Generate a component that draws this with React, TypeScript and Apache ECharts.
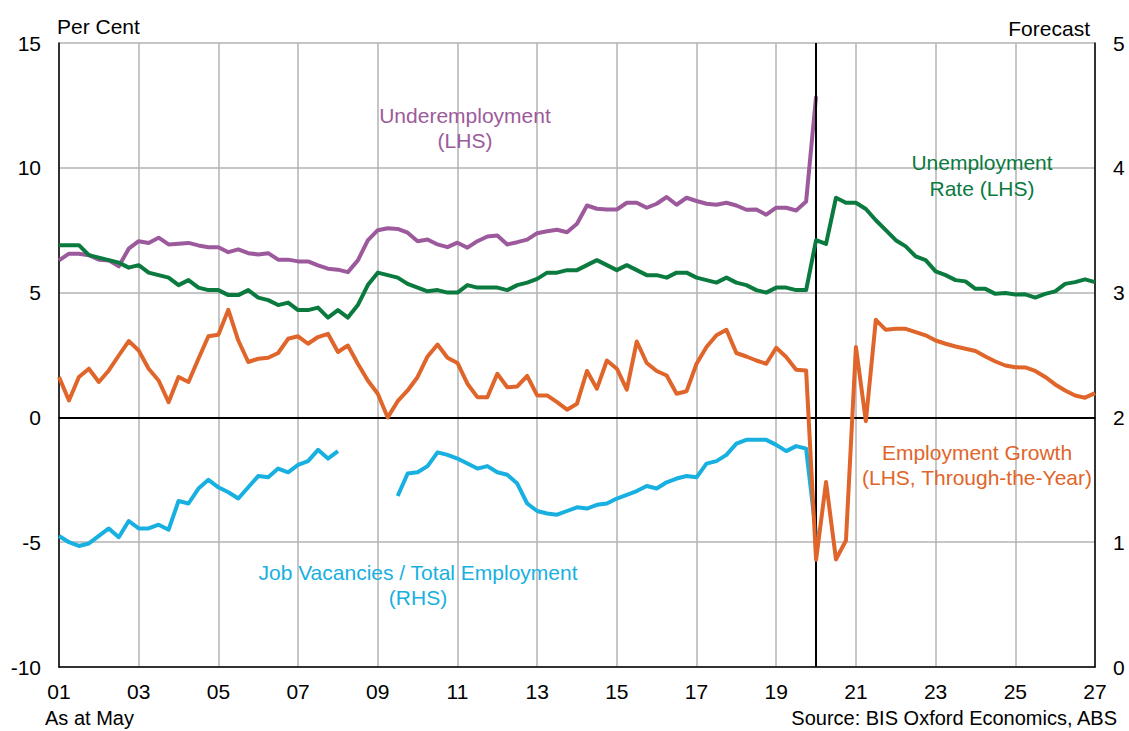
import React, { useEffect, useRef } from "react";
import * as echarts from "echarts";

const START_YEAR = 2001;
const STEP = 0.25;

const xTickYears = [2001, 2003, 2005, 2007, 2009, 2011, 2013, 2015, 2017, 2019, 2021, 2023, 2025, 2027];
const leftTicks = [-10, -5, 0, 5, 10, 15];
const rightTicks = [0, 1, 2, 3, 4, 5];
const forecastStart = 2020;

// Quarterly, starting 2001 Q1
const unemploymentRate = [
  6.9, 6.9, 6.9, 6.5, 6.4, 6.3, 6.2, 6.0, 6.1, 5.8,
  5.7, 5.6, 5.3, 5.5, 5.2, 5.1, 5.1, 4.9, 4.9, 5.1,
  4.8, 4.7, 4.5, 4.6, 4.3, 4.3, 4.4, 4.0, 4.3, 4.0,
  4.5, 5.3, 5.8, 5.7, 5.6,
  5.35, 5.2, 5.05, 5.1, 5.0, 5.0, 5.3, 5.2, 5.2, 5.2,
  5.1, 5.3, 5.4, 5.55, 5.8, 5.8, 5.9, 5.9, 6.1, 6.3,
  6.1, 5.9, 6.1, 5.9, 5.7, 5.7, 5.6, 5.8, 5.8, 5.6,
  5.5, 5.4, 5.6, 5.4, 5.3, 5.1, 5.0, 5.2,
  5.2, 5.1, 5.1, 7.1, 6.95, 8.8, 8.6, 8.6, 8.35, 7.9,
  7.5, 7.1, 6.85, 6.45, 6.3, 5.85, 5.7, 5.5, 5.45, 5.15,
  5.15, 4.95, 4.98, 4.92, 4.93, 4.8, 4.95, 5.05, 5.35, 5.42,
  5.53, 5.42,
];

const underemployment = [
  6.29, 6.56, 6.56, 6.5, 6.32, 6.29, 6.05, 6.76, 7.06, 6.99,
  7.2, 6.93, 6.96, 6.99, 6.89, 6.82, 6.82, 6.62, 6.73, 6.58,
  6.53, 6.58, 6.32, 6.32, 6.25, 6.25, 6.09, 5.96, 5.92, 5.82,
  6.29, 7.09, 7.5, 7.58, 7.55, 7.4, 7.06, 7.13, 6.93, 6.82,
  7.0, 6.8, 7.06, 7.25, 7.29, 6.93, 7.02, 7.12, 7.38, 7.46,
  7.52, 7.42, 7.76, 8.49, 8.36, 8.33, 8.33, 8.6, 8.6, 8.4,
  8.56, 8.83, 8.52, 8.8, 8.67, 8.56, 8.52, 8.6, 8.49, 8.32,
  8.33, 8.12, 8.4, 8.4, 8.29, 8.65, 12.86,
];

const employmentGrowth = [
  1.62, 0.68, 1.62, 1.95, 1.42, 1.88, 2.48, 3.06, 2.68, 1.95,
  1.48, 0.61, 1.62, 1.42, 2.35, 3.25, 3.31, 4.31, 3.08, 2.22,
  2.35, 2.39, 2.58, 3.15, 3.25, 2.95, 3.22, 3.35, 2.62, 2.88,
  2.15, 1.48, 0.95, 0.0, 0.65, 1.08, 1.62, 2.44, 2.92, 2.39,
  2.18, 1.35, 0.81, 0.81, 1.75, 1.21, 1.24, 1.66, 0.88, 0.88,
  0.61, 0.31, 0.55, 1.86, 1.15, 2.28, 1.95, 1.11, 3.04, 2.18,
  1.86, 1.68, 0.95, 1.05, 2.15, 2.82, 3.29, 3.51, 2.58, 2.44,
  2.28, 2.15, 2.79, 2.42, 1.91, 1.88, -5.7, -2.59, -5.69, -4.93,
  2.82, -0.15, 3.91, 3.51, 3.55, 3.55, 3.42, 3.29, 3.08, 2.95,
  2.84, 2.75, 2.66, 2.44, 2.24, 2.08, 2.01, 2.0, 1.86, 1.62,
  1.32, 1.08, 0.88, 0.79, 0.97,
];

const jobVacancies: (number | null)[] = [
  1.05, 1.0, 0.97, 0.99, 1.05, 1.11, 1.04, 1.17, 1.11, 1.11,
  1.14, 1.10, 1.33, 1.31, 1.43, 1.50, 1.44, 1.40, 1.35, 1.44,
  1.53, 1.52, 1.59, 1.56, 1.62, 1.65, 1.74, 1.67, 1.73,
  null, null, null, null, null,
  1.37, 1.55, 1.56, 1.61, 1.72, 1.70,
  1.67, 1.63, 1.59, 1.61, 1.56, 1.54, 1.47, 1.31, 1.25, 1.23,
  1.22, 1.25, 1.28, 1.27, 1.30, 1.31, 1.35, 1.38, 1.41, 1.45,
  1.43, 1.48, 1.51, 1.53, 1.52, 1.63, 1.65, 1.70, 1.79, 1.82,
  1.82, 1.82, 1.78, 1.73, 1.77, 1.75, 1.06,
];

const toPairs = (arr: (number | null)[]) =>
  arr.map((v, i) => [START_YEAR + i * STEP, v === null ? "-" : v]);

const FONT = "'Liberation Sans', Arial, sans-serif";
const PURPLE = "#9c5a9c";
const GREEN = "#0a7a3f";
const ORANGE = "#e0652a";
const BLUE = "#17b0e0";
const GRID_GREY = "#b3b3b3";

export default function App() {
  const ref = useRef<HTMLDivElement>(null);

  useEffect(() => {
    if (!ref.current) return;
    const chart = echarts.init(ref.current, undefined, { renderer: "svg" });

    const txt = (
      x: number,
      y: number,
      text: string,
      color: string,
      align: "left" | "center" | "right" = "center",
      size = 21
    ) => ({
      type: "text",
      x,
      y,
      style: {
        text,
        fill: color,
        font: `${size}px ${FONT}`,
        textAlign: align,
        textVerticalAlign: "middle",
      },
      z: 100,
    });

    const lineStyleFor = (color: string) => ({ color, width: 4, join: "round" });

    chart.setOption({
      animation: false,
      backgroundColor: "#fff",
      grid: { left: 59, right: 34, top: 43, bottom: 64, containLabel: false },
      xAxis: [
        {
          type: "value",
          min: xTickYears[0],
          max: xTickYears[xTickYears.length - 1],
          interval: 2,
          axisLine: { show: true, lineStyle: { color: "#000", width: 1.5 } },
          axisTick: { show: false },
          axisLabel: {
            color: "#000",
            fontSize: 21,
            fontFamily: FONT,
            margin: 14,
            formatter: (v: number) => String(v % 100).padStart(2, "0"),
          },
          splitLine: { show: true, lineStyle: { color: GRID_GREY, width: 1.5 } },
        },
        {
          type: "value",
          position: "top",
          min: xTickYears[0],
          max: xTickYears[xTickYears.length - 1],
          axisLine: { show: true, lineStyle: { color: "#000", width: 1.5 } },
          axisTick: { show: false },
          axisLabel: { show: false },
          splitLine: { show: false },
        },
      ],
      yAxis: [
        {
          type: "value",
          min: leftTicks[0],
          max: leftTicks[leftTicks.length - 1],
          interval: 5,
          axisLine: { show: true, lineStyle: { color: "#000", width: 1.5 } },
          axisTick: { show: false },
          axisLabel: { color: "#000", fontSize: 21, fontFamily: FONT, margin: 18 },
          splitLine: { show: true, lineStyle: { color: GRID_GREY, width: 1.5 } },
        },
        {
          type: "value",
          position: "right",
          min: rightTicks[0],
          max: rightTicks[rightTicks.length - 1],
          interval: 1,
          axisLine: { show: true, lineStyle: { color: "#000", width: 1.5 } },
          axisTick: { show: false },
          axisLabel: { color: "#000", fontSize: 21, fontFamily: FONT, margin: 18 },
          splitLine: { show: false },
        },
      ],
      series: [
        {
          name: "Underemployment",
          type: "line",
          data: toPairs(underemployment),
          yAxisIndex: 0,
          showSymbol: false,
          symbol: "none",
          lineStyle: lineStyleFor(PURPLE),
          itemStyle: { color: PURPLE },
          z: 3,
          markLine: {
            silent: true,
            symbol: "none",
            label: { show: false },
            animation: false,
            data: [
              { yAxis: 0, lineStyle: { color: "#000", width: 2, type: "solid" } },
              { xAxis: forecastStart, lineStyle: { color: "#000", width: 2, type: "solid" } },
            ],
          },
        },
        {
          name: "Job Vacancies / Total Employment",
          type: "line",
          data: toPairs(jobVacancies),
          yAxisIndex: 1,
          showSymbol: false,
          symbol: "none",
          connectNulls: false,
          lineStyle: lineStyleFor(BLUE),
          itemStyle: { color: BLUE },
          z: 4,
        },
        {
          name: "Unemployment Rate",
          type: "line",
          data: toPairs(unemploymentRate),
          yAxisIndex: 0,
          showSymbol: false,
          symbol: "none",
          lineStyle: lineStyleFor(GREEN),
          itemStyle: { color: GREEN },
          z: 5,
        },
        {
          name: "Employment Growth",
          type: "line",
          data: toPairs(employmentGrowth),
          yAxisIndex: 0,
          showSymbol: false,
          symbol: "none",
          lineStyle: lineStyleFor(ORANGE),
          itemStyle: { color: ORANGE },
          z: 6,
        },
      ],
      graphic: [
        txt(57, 26, "Per Cent", "#000", "left"),
        txt(1090, 28, "Forecast", "#000", "right"),
        txt(465, 115, "Underemployment", PURPLE),
        txt(465, 140, "(LHS)", PURPLE),
        txt(982, 162, "Unemployment", GREEN),
        txt(982, 188, "Rate (LHS)", GREEN),
        txt(977, 452, "Employment Growth", ORANGE),
        txt(977, 477, "(LHS, Through-the-Year)", ORANGE),
        txt(418, 572, "Job Vacancies / Total Employment", BLUE),
        txt(418, 597, "(RHS)", BLUE),
        txt(45, 718, "As at May", "#000", "left", 20),
        txt(1117, 718, "Source: BIS Oxford Economics, ABS", "#000", "right", 20),
      ],
    });

    return () => chart.dispose();
  }, []);

  return (
    <div
      ref={ref}
      style={{ position: "absolute", left: 0, top: 0, width: 1129, height: 731, background: "#fff" }}
    />
  );
}
